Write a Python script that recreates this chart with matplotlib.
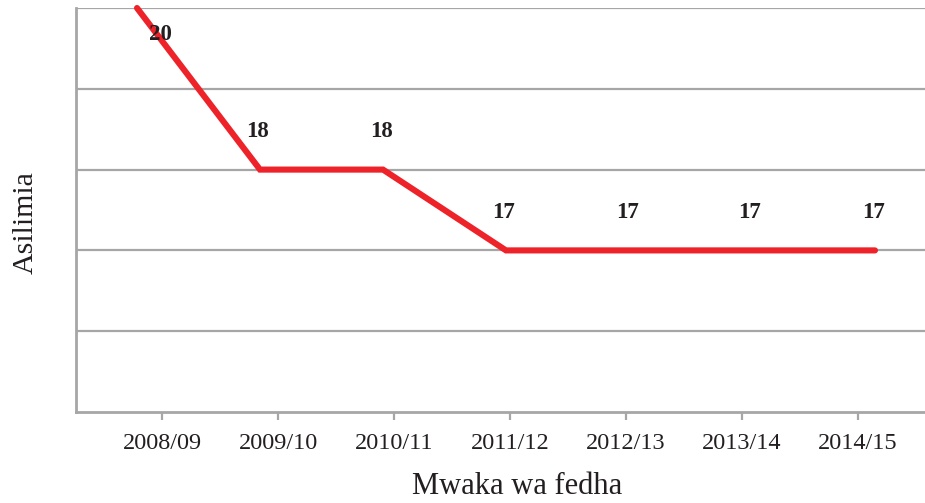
import matplotlib
matplotlib.use("Agg")
import matplotlib.pyplot as plt
import numpy as np

years = ["2008/09", "2009/10", "2010/11", "2011/12", "2012/13", "2013/14", "2014/15"]
values = [20, 18, 18, 17, 17, 17, 17]
labels = ["20", "18", "18", "17", "17", "17", "17"]

plt.rcParams['font.family'] = ['Liberation Serif', 'DejaVu Serif']

W, H = 925, 503
fig = plt.figure(figsize=(W / 100, H / 100), dpi=100)
ax = fig.add_axes([76 / W, (H - 412) / H, (W - 76) / W, (412 - 8) / H])

grid_c = "#a6a6a6"
text_c = "#231f20"
red = "#ee2229"

x = np.arange(len(values))
ax.plot(x, values, color=red, lw=4.4, solid_capstyle='round', solid_joinstyle='miter',
        clip_on=False, zorder=3)

for i, (v, lab) in enumerate(zip(values, labels)):
    off = (23, -27) if i == 0 else (-2, 38)
    ax.annotate(lab, xy=(i, v), xytext=off, textcoords='offset pixels',
                ha='center', va='center', fontsize=16.5, fontweight='bold', color=text_c)

ax.set_ylim(15, 20)
ax.set_yticks([16, 17, 18, 19, 20])
ax.set_yticklabels([])
ax.tick_params(axis='y', length=0)
ax.yaxis.grid(True, color=grid_c, lw=1.6)
ax.set_axisbelow(True)

step = 116 / 123
start = (162 - 137) / 123
ax.set_xlim((76 - 137) / 123, (925 - 137) / 123)
ax.set_xticks(start + step * x)
ax.set_xticklabels(years, fontsize=17.5, color=text_c)
ax.tick_params(axis='x', length=6, width=1.6, color=grid_c, pad=9)

for s in ['top', 'right']:
    ax.spines[s].set_visible(False)
for s in ['left', 'bottom']:
    ax.spines[s].set_color(grid_c)
    ax.spines[s].set_linewidth(2)

fig.text(517 / W, 1 - 487 / H, "Mwaka wa fedha", ha='center', va='center', fontsize=22, color=text_c)
fig.text(26 / W, 1 - 223 / H, "Asilimia", ha='center', va='center', rotation=90, fontsize=21.5, color=text_c)

fig.savefig("out.png", dpi=100)
